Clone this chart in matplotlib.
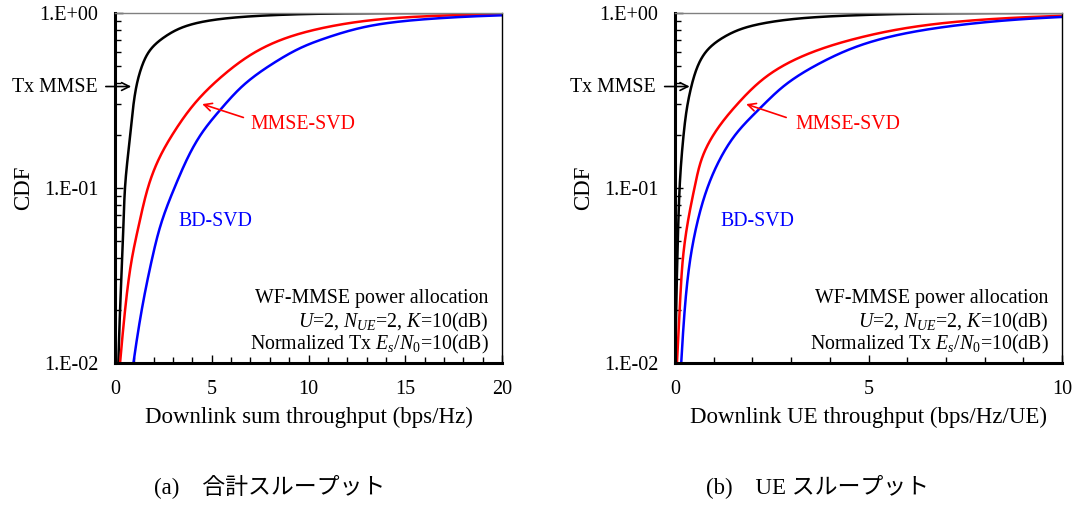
import numpy as np
import matplotlib.pyplot as plt
from matplotlib.ticker import FixedLocator, MultipleLocator, LogLocator, NullFormatter

plt.rcParams['font.family'] = ['Liberation Serif', 'Noto Sans CJK JP']
plt.rcParams['mathtext.fontset'] = 'custom'
plt.rcParams['mathtext.rm'] = 'Liberation Serif'
plt.rcParams['mathtext.it'] = 'Liberation Serif:italic'

# (a) sum throughput, CDF values
sum_tx_x = [0.17, 0.26, 0.40, 0.52, 0.74, 0.92, 1.10, 1.38, 1.82, 2.58, 3.36, 4.56, 6.29, 8.36, 12.0, 20.0]
sum_tx_y = [0.01, 0.0201, 0.0483, 0.102, 0.18, 0.279, 0.379, 0.493, 0.615, 0.732, 0.817, 0.892, 0.944, 0.974, 0.995, 0.9999]
sum_mmse_x = [0.26, 0.52, 0.86, 1.21, 1.72, 2.24, 3.01, 4.05, 5.51, 7.15, 9.04, 10.94, 14.5, 18.1, 20.0]
sum_mmse_y = [0.01, 0.0201, 0.0388, 0.060, 0.102, 0.1445, 0.2055, 0.298, 0.433, 0.589, 0.732, 0.83, 0.936, 0.975, 0.985]
sum_bd_x = [0.95, 1.38, 1.90, 2.33, 3.10, 3.70, 4.48, 5.43, 6.55, 8.18, 9.73, 10.94, 13.6, 17.2, 20.0]
sum_bd_y = [0.01, 0.0201, 0.0388, 0.060, 0.102, 0.1445, 0.2055, 0.279, 0.379, 0.516, 0.642, 0.722, 0.86, 0.94, 0.97]

# (b) UE throughput
ue_tx_x = [0.01, 0.03, 0.07, 0.12, 0.20, 0.30, 0.42, 0.58, 0.84, 1.28, 1.76, 2.53, 3.57, 4.87, 6.5, 10.0]
ue_tx_y = [0.01, 0.0201, 0.0483, 0.102, 0.18, 0.279, 0.379, 0.493, 0.615, 0.732, 0.817, 0.892, 0.944, 0.974, 0.993, 0.9999]
ue_mmse_x = [0.05, 0.12, 0.20, 0.31, 0.51, 0.68, 1.02, 1.59, 2.36, 3.48, 4.87, 5.56, 7.1, 8.5, 10.0]
ue_mmse_y = [0.01, 0.0201, 0.0388, 0.060, 0.102, 0.1445, 0.2055, 0.298, 0.433, 0.589, 0.732, 0.79, 0.883, 0.932, 0.963]
ue_bd_x = [0.16, 0.25, 0.39, 0.55, 0.85, 1.15, 1.59, 2.15, 2.79, 3.74, 4.69, 5.56, 7.1, 8.5, 10.0]
ue_bd_y = [0.01, 0.0201, 0.0388, 0.060, 0.102, 0.1445, 0.2055, 0.279, 0.379, 0.516, 0.642, 0.732, 0.84, 0.905, 0.949]

ytick_vals = [0.01, 0.1, 1.0]
ytick_labels = ['1.E-02', '1.E-01', '1.E+00']


def smooth(xs, ys, n=800):
    # natural cubic spline of x against w = -log10(-ln y), just to draw a smooth line
    x = np.asarray(xs, float)
    w = -np.log10(-np.log(np.asarray(ys, float)))
    h = np.diff(w)
    N = len(w)
    A = np.zeros((N, N))
    r = np.zeros(N)
    A[0, 0] = A[-1, -1] = 1
    for i in range(1, N - 1):
        A[i, i - 1] = h[i - 1]
        A[i, i] = 2 * (h[i - 1] + h[i])
        A[i, i + 1] = h[i]
        r[i] = 6 * ((x[i + 1] - x[i]) / h[i] - (x[i] - x[i - 1]) / h[i - 1])
    M = np.linalg.solve(A, r)
    ww = np.linspace(w[0], w[-1], n)
    k = np.clip(np.searchsorted(w, ww) - 1, 0, N - 2)
    a = w[k + 1] - ww
    b = ww - w[k]
    hk = h[k]
    xx = (M[k] * a**3 + M[k + 1] * b**3) / (6 * hk) \
        + (x[k] / hk - M[k] * hk / 6) * a + (x[k + 1] / hk - M[k + 1] * hk / 6) * b
    return xx, np.exp(-10 ** (-ww))


fig = plt.figure(figsize=(10.73, 5.05), dpi=100)
ax1 = fig.add_axes([0.1072, 0.2812, 0.3607, 0.6931])
ax2 = fig.add_axes([0.6291, 0.2812, 0.3607, 0.6931])

panels = [
    (ax1, 20, [sum_tx_x, sum_mmse_x, sum_bd_x], [sum_tx_y, sum_mmse_y, sum_bd_y],
     'Downlink sum throughput (bps/Hz)', (-0.62, 0.98), (-0.9, 6.77, 7.0, 3.3), (4.37, 0.305)),
    (ax2, 10, [ue_tx_x, ue_mmse_x, ue_bd_x], [ue_tx_y, ue_mmse_y, ue_bd_y],
     'Downlink UE throughput (bps/Hz/UE)', (-0.34, 0.45), (-0.5, 2.94, 3.1, 1.17), (1.77, 0.305)),
]

colors = ['black', 'red', 'blue']
for ax, xmax, xs_list, ys_list, xlabel, tx_arrow, txt_x, mm_tip in panels:
    for xs, ys, c in zip(xs_list, ys_list, colors):
        sx, sy = smooth(xs, ys)
        ax.plot(sx, sy, color=c, lw=1.8)
    ax.set_yscale('log')
    ax.set_ylim(0.01, 1.0)
    ax.set_xlim(0, xmax)
    ax.yaxis.set_major_locator(FixedLocator(ytick_vals))
    ax.set_yticklabels(ytick_labels)
    ax.yaxis.set_minor_locator(LogLocator(base=10, subs=np.arange(2, 10)))
    ax.yaxis.set_minor_formatter(NullFormatter())
    ax.xaxis.set_major_locator(MultipleLocator(5))
    ax.xaxis.set_minor_locator(MultipleLocator(1))
    ax.tick_params(which='both', direction='in', labelsize=14.5, top=False, right=False)
    ax.tick_params(which='major', length=6, width=1)
    ax.tick_params(which='minor', length=4, width=1)
    ax.tick_params(axis='x', pad=12)
    ax.tick_params(axis='y', pad=12)
    ax.spines['left'].set_linewidth(2.2)
    ax.spines['bottom'].set_linewidth(2.2)
    ax.spines['right'].set_linewidth(1.0)
    ax.spines['top'].set_linewidth(1.0)
    ax.spines['top'].set_color('gray')
    ax.set_xlabel(xlabel, fontsize=16.5, labelpad=6)
    ax.set_ylabel('CDF', fontsize=16.5, labelpad=4)

    ax.annotate('', xy=(tx_arrow[1], 0.38), xytext=(tx_arrow[0], 0.38),
                arrowprops=dict(arrowstyle='->', color='black', lw=1.2, mutation_scale=14),
                annotation_clip=False)
    ax.text(txt_x[0], 0.375, 'Tx MMSE', fontsize=14.3, ha='right', va='center', clip_on=False)
    ax.annotate('', xy=mm_tip, xytext=(txt_x[1], 0.25),
                arrowprops=dict(arrowstyle='->', color='red', lw=1.2, mutation_scale=14))
    ax.text(txt_x[2], 0.232, 'MMSE-SVD', fontsize=14.3, color='red', ha='left', va='center')
    ax.text(txt_x[3], 0.064, 'BD-SVD', fontsize=14.3, color='blue', ha='left', va='center')

    ax.text(0.965, 0.183, 'WF-MMSE power allocation', transform=ax.transAxes,
            fontsize=14.3, ha='right', va='center')
    ax.text(0.965, 0.115, r'$U$=2, $N_{UE}$=2, $K$=10(dB)', transform=ax.transAxes,
            fontsize=14.3, ha='right', va='center')
    ax.text(0.965, 0.053, r'Normalized Tx $E_s$/$N_0$=10(dB)', transform=ax.transAxes,
            fontsize=14.3, ha='right', va='center')

fig.text(270 / 1073, 1 - 487 / 505, '(a)\u3000合計スループット', fontsize=16.5, ha='center', va='center')
fig.text(817 / 1073, 1 - 487 / 505, '(b)\u3000UE スループット', fontsize=16.5, ha='center', va='center')

fig.savefig('out.png', dpi=100)
